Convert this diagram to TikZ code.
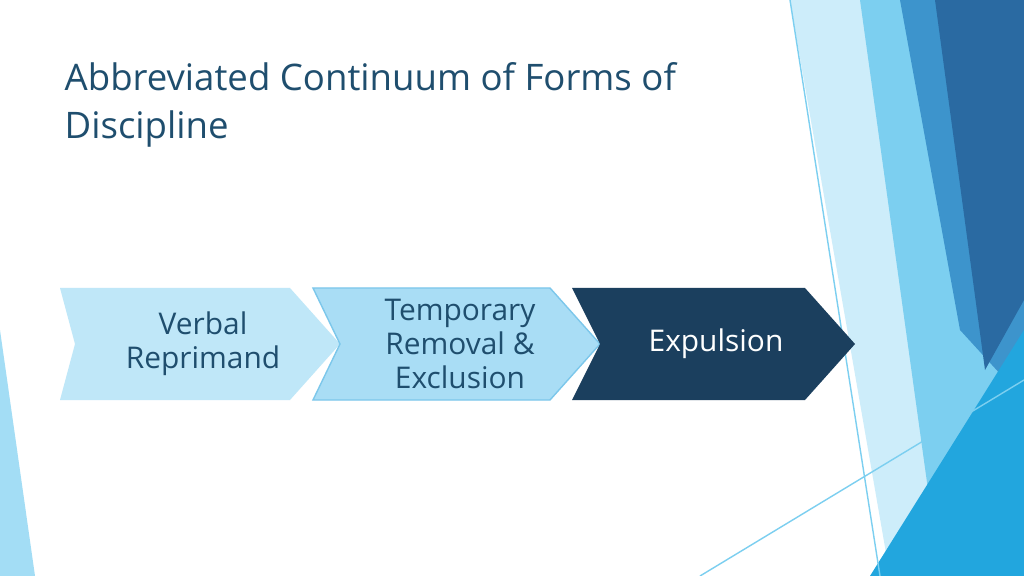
\documentclass[tikz,border=0pt]{standalone}
\usepackage{fontspec}
\setmainfont{Open Sans}
\definecolor{titleblue}{HTML}{1F4E6E}
\definecolor{paleA}{HTML}{BFE7F8}
\definecolor{paleB}{HTML}{A9DDF5}
\definecolor{edgeB}{HTML}{7CC7EB}
\definecolor{navy}{HTML}{1B3F5E}
\definecolor{deco1}{HTML}{CDEDFA}
\definecolor{deco2}{HTML}{7CCFF0}
\definecolor{deco3}{HTML}{3D94CC}
\definecolor{deco4}{HTML}{2A6AA2}
\definecolor{deco5}{HTML}{22A6DE}
\tikzset{chevtext/.style={font=\fontsize{8.5}{9.6}\selectfont, align=center, inner sep=0pt}}
\begin{document}
\begin{tikzpicture}[x=0.01cm,y=-0.01cm]
        \useasboundingbox[fill=white] (0,0) rectangle (1024,576);
        % right decoration
        \fill[deco1] (790,0) -- (880,0) -- (985,576) -- (890,576) -- cycle;
        \fill[deco2] (860,0) -- (1024,0) -- (1024,576) -- (940,576) -- cycle;
        \fill[deco3] (900,0) -- (1024,0) -- (1024,400) -- (960,330) -- cycle;
        \fill[deco4] (935,0) -- (1024,0) -- (1024,300) -- (985,370) -- cycle;
        \fill[deco5] (870,576) -- (1024,330) -- (1024,576) -- cycle;
        \fill[deco2!70] (0,330) -- (35,576) -- (0,576) -- cycle;
        \draw[deco2, thin] (790,0) -- (880,576);
        \draw[deco2, thin] (700,576) -- (1024,380);
        % title
        \node[anchor=north west, text=titleblue, font=\fontsize{10.4}{13.6}\selectfont, align=left, inner sep=0pt] (title) at (64,62)
            {Abbreviated Continuum of Forms of\\Discipline};
        % chevrons
        \fill[paleA] (60,288) -- (290,288) -- (340,344) -- (290,400) -- (60,400) -- (75,344) -- cycle;
        \fill[paleB, draw=edgeB] (313,288) -- (550,288) -- (600,344) -- (550,400) -- (313,400) -- (340,344) -- cycle;
        \fill[navy] (572,288) -- (805,288) -- (855,344) -- (805,400) -- (572,400) -- (600,344) -- cycle;
        \node[chevtext, text=titleblue] (verbal) at (203,344) {Verbal\\Reprimand};
        \node[chevtext, text=titleblue] (removal) at (460,344) {Temporary\\Removal \&\\Exclusion};
        \node[chevtext, text=white] (expulsion) at (716,344) {Expulsion};
\end{tikzpicture}
\end{document}
